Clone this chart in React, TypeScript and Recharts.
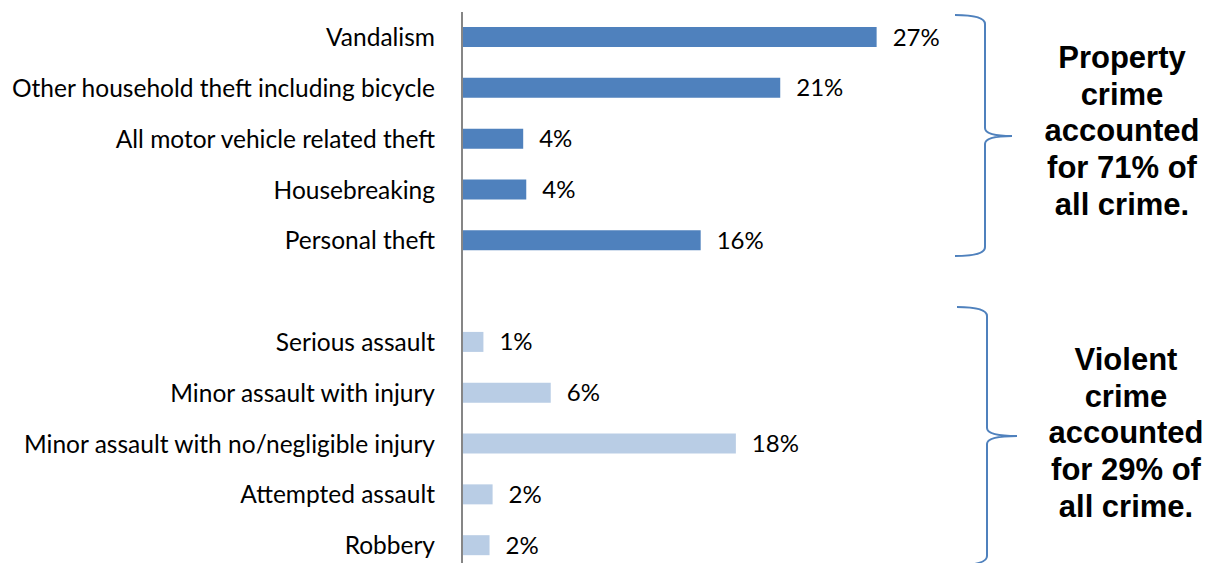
import React from 'react';
import { BarChart, Bar, XAxis, YAxis, Cell, LabelList } from 'recharts';

const categories = [
  'Vandalism',
  'Other household theft including bicycle',
  'All motor vehicle related theft',
  'Housebreaking',
  'Personal theft',
  '',
  'Serious assault',
  'Minor assault with injury',
  'Minor assault with no/negligible injury',
  'Attempted assault',
  'Robbery',
];
const shares = [27.1, 20.8, 4.0, 4.2, 15.6, null, 1.4, 5.8, 17.9, 2.0, 1.8];
const groups = ['property', 'property', 'property', 'property', 'property', 'gap', 'violent', 'violent', 'violent', 'violent', 'violent'];

const propertyNote = ['Property', 'crime', 'accounted', 'for 71% of', 'all crime.'];
const violentNote = ['Violent', 'crime', 'accounted', 'for 29% of', 'all crime.'];

const colours: Record<string, string> = { property: '#4F81BD', violent: '#B9CDE5', gap: 'none' };
const labelFont = 'Lato, "Noto Sans", sans-serif';
const noteFont = '"Liberation Sans", Arial, sans-serif';

const data = categories.map((name, i) => ({ name, share: shares[i], group: groups[i] }));

const Note = ({ lines, x, y }: { lines: string[]; x: number; y: number }) => (
  <text x={x} y={y} textAnchor="middle" fontFamily={noteFont} fontWeight="bold" fontSize={31} fill="#000">
    {lines.map((l, i) => (
      <tspan key={i} x={x} y={y + i * 36.7}>{l}</tspan>
    ))}
  </text>
);

const App = () => {
  return (
    <div style={{ position: 'relative', width: 1200, height: 600, background: '#fff' }}>
      <BarChart
        width={1200}
        height={600}
        data={data}
        layout="vertical"
        margin={{ top: 4, right: 287, bottom: 37, left: 0 }}
      >
        <XAxis type="number" domain={[0, 30]} hide />
        <YAxis
          type="category"
          dataKey="name"
          width={454}
          interval={0}
          tickLine={false}
          tickSize={0}
          tickMargin={27}
          axisLine={{ stroke: '#868686', strokeWidth: 2 }}
          tick={{ fontSize: 24.5, fontFamily: labelFont, fill: '#000' }}
        />
        <Bar dataKey="share" barSize={20} isAnimationActive={false}>
          {data.map((d, i) => (
            <Cell key={i} fill={colours[d.group]} />
          ))}
          <LabelList
            dataKey="share"
            position="right"
            offset={16}
            fill="#000"
            fontSize={24}
            fontFamily={labelFont}
            formatter={(v: any) => (v == null ? '' : `${Math.round(v)}%`)}
          />
        </Bar>
      </BarChart>
      <svg width={1200} height={600} style={{ position: 'absolute', left: 0, top: 0, pointerEvents: 'none' }}>
        <path
          d="M947,7 Q977,7 977,16 L977,120 Q977,128 1004,128 Q977,128 977,136 L977,239 Q977,248 947,248"
          fill="none"
          stroke="#4F81BD"
          strokeWidth={2}
        />
        <path
          d="M949,299 Q979,299 979,308 L979,420 Q979,428 1009,428 Q979,428 979,436 L979,548 Q979,557 949,557"
          fill="none"
          stroke="#4F81BD"
          strokeWidth={2}
        />
        <Note lines={propertyNote} x={1114} y={60} />
        <Note lines={violentNote} x={1118} y={362} />
      </svg>
    </div>
  );
};

export default App;
